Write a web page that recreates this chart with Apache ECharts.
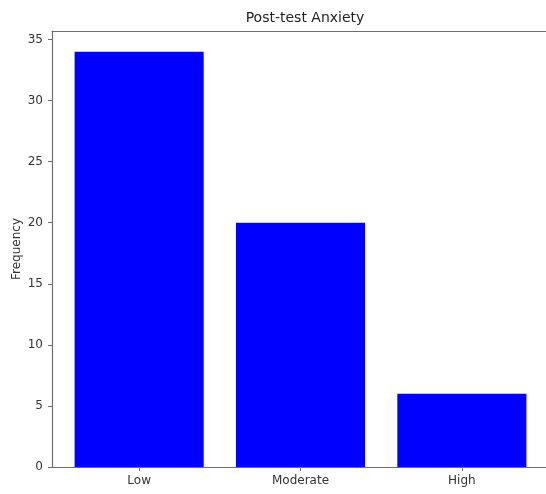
<!DOCTYPE html>
<html>
<head>
<meta charset="utf-8">
<script src="https://cdn.jsdelivr.net/npm/echarts@6/dist/echarts.min.js"></script>
<style>
html,body{margin:0;padding:0;background:#fff;}
#chart{width:546px;height:494px;}
</style>
</head>
<body>
<div id="chart"></div>
<script>
const categories = ["Low", "Moderate", "High"];
const frequency = [34, 20, 6];
const yTicks = [0, 5, 10, 15, 20, 25, 30, 35];
const title = "Post-test Anxiety";
const yName = "Frequency";

const chart = echarts.init(document.getElementById('chart'), null, {renderer: 'canvas'});
const font = "DejaVu Sans";
const axisColor = "#6e6e6e";
const textColor = "#333";
const xIdx = categories.map((c, i) => i);

const option = {
  backgroundColor: '#fff',
  animation: false,
  title: {
    text: title, left: 300, top: 6, textAlign: 'center',
    textStyle: {fontFamily: font, fontSize: 14, fontWeight: 'normal', color: '#222'}
  },
  grid: {left: 52, top: 31, width: 497, height: 436, show: false, containLabel: false, outerBoundsMode: 'none'},
  xAxis: [{
    type: 'value', min: -0.54, max: 2.54, position: 'bottom',
    axisLine: {show: true, onZero: false, lineStyle: {color: axisColor, width: 1.2}},
    axisTick: {show: true, length: 4, customValues: xIdx, lineStyle: {color: axisColor}},
    axisLabel: {customValues: xIdx, formatter: v => categories[Math.round(v)], fontFamily: font, fontSize: 12, color: textColor, margin: 8},
    splitLine: {show: false}
  }, {
    type: 'value', min: -0.54, max: 2.54, position: 'top',
    axisLine: {show: true, onZero: false, lineStyle: {color: axisColor, width: 1.2}},
    axisTick: {show: false}, axisLabel: {show: false}, splitLine: {show: false}
  }],
  yAxis: {
    type: 'value', min: 0, max: 35.7, position: 'left',
    name: yName, nameLocation: 'middle', nameGap: 29, nameMoveOverlap: false,
    nameTextStyle: {fontFamily: font, fontSize: 12, color: textColor},
    axisLine: {show: true, onZero: false, lineStyle: {color: axisColor, width: 1.2}},
    axisTick: {show: true, length: 4, customValues: yTicks, lineStyle: {color: axisColor}},
    axisLabel: {customValues: yTicks, fontFamily: font, fontSize: 12, color: textColor, margin: 9},
    splitLine: {show: false}
  },
  series: [{
    type: 'bar',
    xAxisIndex: 0,
    data: frequency.map((v, i) => [i, v]),
    barWidth: 100,
    itemStyle: {color: '#0000ff'}
  }]
};
chart.setOption(option);
const w = chart.convertToPixel({xAxisIndex: 0}, 0.8) - chart.convertToPixel({xAxisIndex: 0}, 0);
chart.setOption({series: [{barWidth: w}]});
</script>
</body>
</html>
